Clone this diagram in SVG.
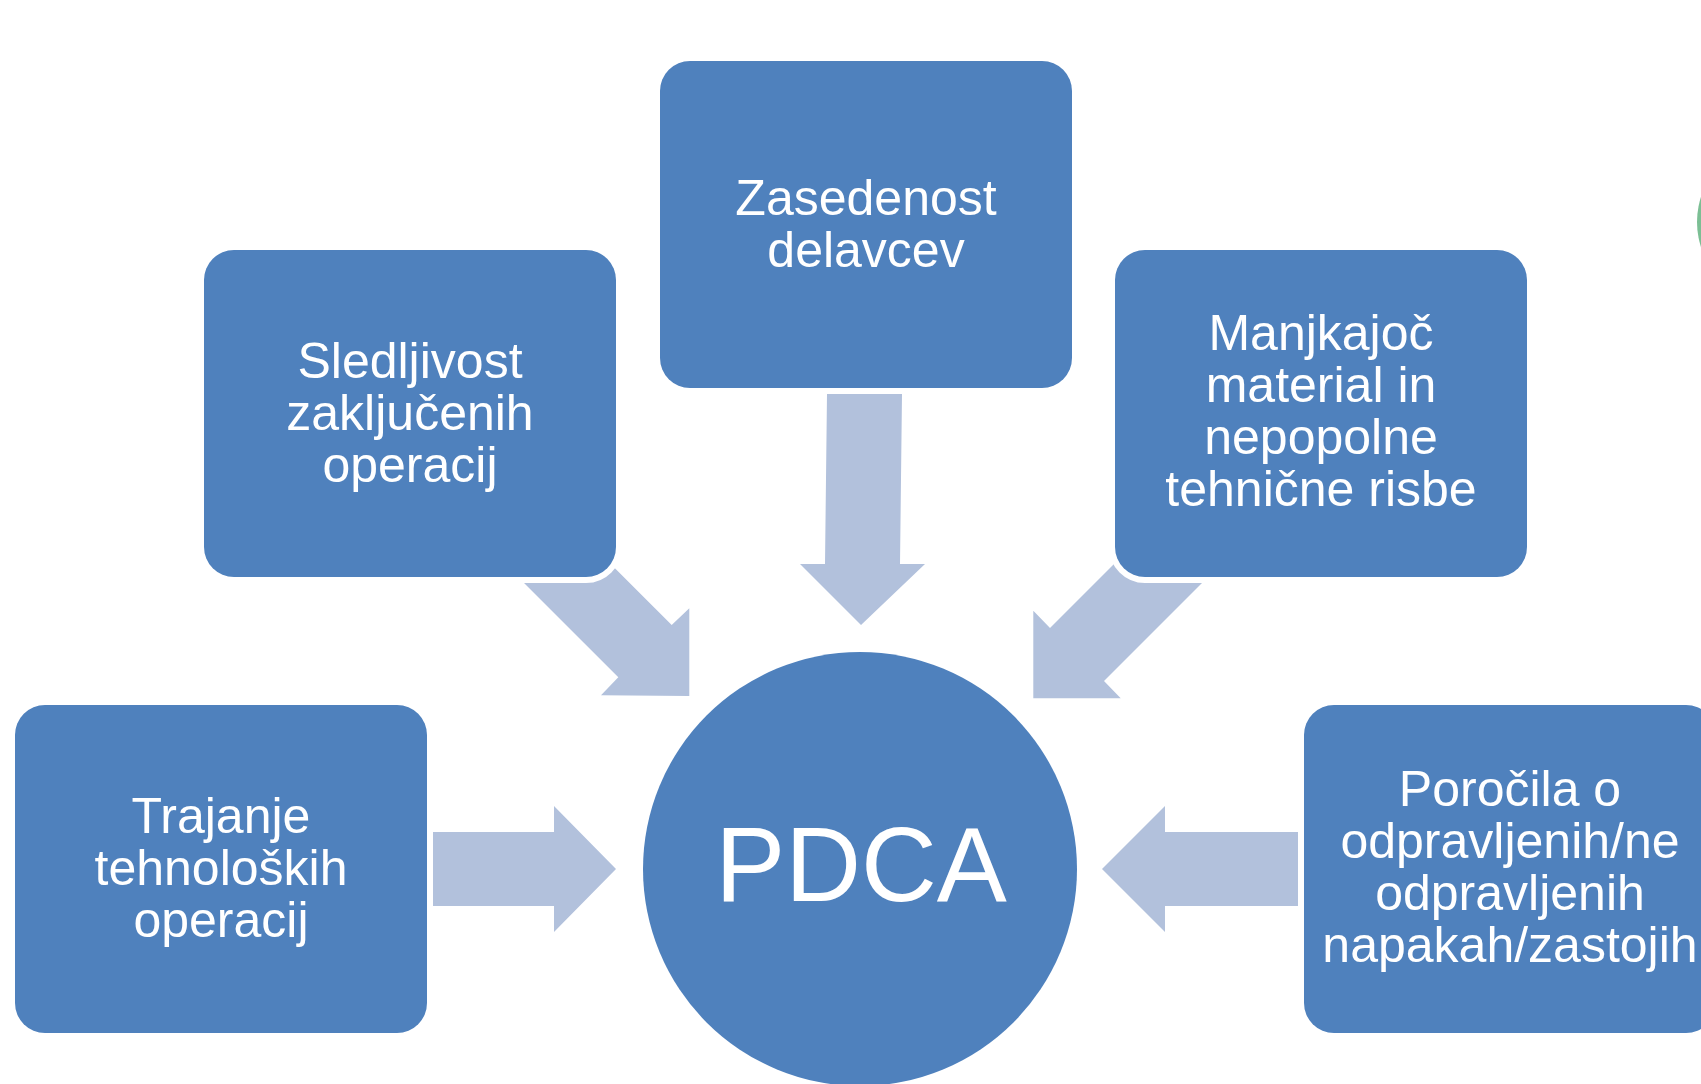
<svg xmlns="http://www.w3.org/2000/svg" width="1701" height="1084" viewBox="0 0 1701 1084">
  <style>
    .box { fill: #4f81bd; stroke: #ffffff; stroke-width: 12; paint-order: stroke; }
    .arrow { fill: #b2c1dc; }
    .lbl { font-family: "Liberation Sans", Arial, sans-serif; font-size: 50px; fill: #ffffff; text-anchor: middle; }
    .big { font-family: "Liberation Sans", Arial, sans-serif; font-size: 105px; fill: #ffffff; text-anchor: middle; }
  </style>
  <rect width="1701" height="1084" fill="#ffffff"/>
  <circle cx="1778" cy="222" r="81" fill="#7bbf94"/>
  <g id="connectors">
    <polygon class="arrow" points="432,832 554,832 554,806 616,869 554,932 554,906 432,906"/>
    <polygon class="arrow" points="1299,832 1165,832 1165,806 1102,869 1165,932 1165,906 1299,906"/>
    <polygon class="arrow" points="827,394 902,394 900,564 925,564 861,625 800,564 825,564"/>
    <polygon class="arrow" points="563.4,516.7 671.7,625 689.3,608.3 689.3,696 601,695.3 618.3,677.3 510.5,569.5"/>
    <polygon class="arrow" points="1159,519 1050,628 1033.3,610.7 1033.3,698.3 1120.7,698.3 1104,681 1212.5,572.5"/>
  </g>
  <g id="node-zasedenost">
    <rect class="box" x="660" y="61" width="412" height="327" rx="30"/>
    <text class="lbl" x="866" y="215">Zasedenost</text>
    <text class="lbl" x="866" y="267">delavcev</text>
  </g>
  <g id="node-sledljivost">
    <rect class="box" x="204" y="250" width="412" height="327" rx="30"/>
    <text class="lbl" x="410" y="378">Sledljivost</text>
    <text class="lbl" x="410" y="430">zaključenih</text>
    <text class="lbl" x="410" y="482">operacij</text>
  </g>
  <g id="node-manjkajoc">
    <rect class="box" x="1115" y="250" width="412" height="327" rx="30"/>
    <text class="lbl" x="1321" y="350">Manjkajoč</text>
    <text class="lbl" x="1321" y="402">material in</text>
    <text class="lbl" x="1321" y="454">nepopolne</text>
    <text class="lbl" x="1321" y="506">tehnične risbe</text>
  </g>
  <g id="node-trajanje">
    <rect class="box" x="15" y="705" width="412" height="328" rx="30"/>
    <text class="lbl" x="221" y="833">Trajanje</text>
    <text class="lbl" x="221" y="885">tehnoloških</text>
    <text class="lbl" x="221" y="937">operacij</text>
  </g>
  <g id="node-porocila">
    <rect class="box" x="1304" y="705" width="412" height="328" rx="30"/>
    <text class="lbl" x="1510" y="806">Poročila o</text>
    <text class="lbl" x="1510" y="858">odpravljenih/ne</text>
    <text class="lbl" x="1510" y="910">odpravljenih</text>
    <text class="lbl" x="1510" y="962">napakah/zastojih</text>
  </g>
  <g id="node-pdca">
    <circle cx="860" cy="869" r="217" fill="#4f81bd"/>
    <text class="big" x="861" y="901">PDCA</text>
  </g>
</svg>
